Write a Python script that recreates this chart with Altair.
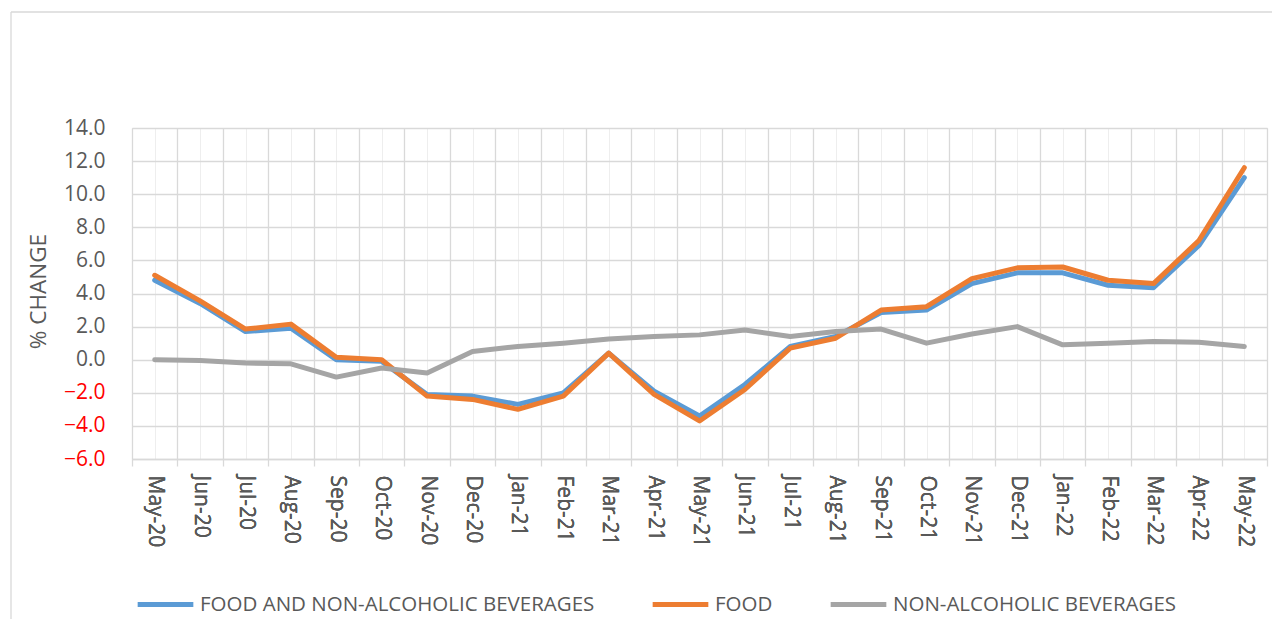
import altair as alt
import pandas as pd

months = ['May-20', 'Jun-20', 'Jul-20', 'Aug-20', 'Sep-20', 'Oct-20', 'Nov-20', 'Dec-20',
          'Jan-21', 'Feb-21', 'Mar-21', 'Apr-21', 'May-21', 'Jun-21', 'Jul-21', 'Aug-21',
          'Sep-21', 'Oct-21', 'Nov-21', 'Dec-21', 'Jan-22', 'Feb-22', 'Mar-22', 'Apr-22', 'May-22']

food_nab = [4.8, 3.4, 1.7, 1.9, 0.0, -0.1, -2.1, -2.2, -2.7, -2.0, 0.4, -1.9, -3.4, -1.5,
            0.8, 1.4, 2.85, 3.0, 4.6, 5.25, 5.25, 4.5, 4.35, 6.9, 11.0]
food = [5.1, 3.55, 1.85, 2.15, 0.15, 0.0, -2.2, -2.4, -3.0, -2.2, 0.4, -2.1, -3.7, -1.8,
        0.7, 1.3, 3.0, 3.2, 4.9, 5.55, 5.6, 4.8, 4.6, 7.2, 11.6]
nab = [0.0, -0.05, -0.2, -0.25, -1.05, -0.5, -0.8, 0.5, 0.8, 1.0, 1.25, 1.4, 1.5, 1.8,
       1.4, 1.7, 1.85, 1.0, 1.55, 2.0, 0.9, 1.0, 1.1, 1.05, 0.8]

series_names = ['FOOD AND NON-ALCOHOLIC BEVERAGES', 'FOOD', 'NON-ALCOHOLIC BEVERAGES']
series_colors = ['#5B9BD5', '#ED7D31', '#A5A5A5']
y_ticks = [-6, -4, -2, 0, 2, 4, 6, 8, 10, 12, 14]

rows = []
for name, vals in zip(series_names, [food_nab, food, nab]):
    for i, (m, v) in enumerate(zip(months, vals)):
        rows.append({'idx': i, 'month': m, 'series': name, 'value': v})
df = pd.DataFrame(rows)

FONT = 'Open Sans'
TXT = '#595959'
GRID = '#d9d9d9'
n = len(months)
label_expr = "[" + ",".join("'%s'" % m for m in months) + "][datum.value]"

xscale = alt.Scale(domain=[-0.5, n - 0.5], nice=False, zero=False)
yscale = alt.Scale(domain=[-6, 14], nice=False)

yaxis = alt.Axis(values=y_ticks, format='.1f', title='% CHANGE',
                 grid=True, gridColor=GRID, gridWidth=1.3, ticks=False,
                 domain=False, labelPadding=27, labelFont=FONT, labelFontSize=21,
                 labelColor=alt.ExprRef("datum.value < 0 ? '#FF0000' : '#595959'"),
                 titleFont=FONT, titleFontSize=22.5, titleColor=TXT,
                 titleFontWeight='normal', titleAngle=270, titleX=-94,
                 titleY=163, titleAlign='center', titleBaseline='middle')

color = alt.Color('series:N',
                  scale=alt.Scale(domain=series_names, range=series_colors),
                  sort=series_names,
                  legend=alt.Legend(title=None, orient='none', direction='horizontal',
                                    legendX=3, legendY=446,
                                    symbolType='stroke', symbolSize=3100,
                                    symbolStrokeWidth=5, labelFont=FONT, labelFontSize=20.5,
                                    labelColor=TXT, labelOffset=4, columnPadding=47,
                                    labelLimit=700))

base = alt.Chart(df).encode(
    x=alt.X('idx:Q', scale=xscale,
            axis=alt.Axis(values=list(range(n)), labelExpr=label_expr, title=None,
                          orient='bottom',
                          grid=True, gridColor='#eeeeee', gridWidth=1, ticks=False,
                          domain=False, labelAngle=90, labelAlign='left',
                          labelBaseline='middle', labelPadding=16, labelFont=FONT,
                          labelFontSize=21, labelColor=TXT)),
    y=alt.Y('value:Q', scale=yscale, axis=yaxis),
    color=color,
)

lines = [base.transform_filter(alt.datum.series == s).mark_line(
    strokeWidth=5, strokeCap='round', strokeJoin='round') for s in series_names]

boundaries = [i - 0.5 for i in range(n + 1)]
grid_layer = alt.Chart(df).mark_line(strokeOpacity=0).encode(
    x=alt.X('idx:Q', scale=xscale,
            axis=alt.Axis(values=boundaries, labels=False, title=None, grid=True,
                          orient='bottom',
                          gridColor=GRID, gridWidth=1.3, ticks=True, tickSize=7,
                          tickColor=GRID, tickWidth=1.3, domain=True,
                          domainColor=GRID, domainWidth=1.3)),
    y=alt.Y('value:Q', scale=yscale, axis=yaxis),
)

frame_df = pd.DataFrame({'k': [0]})
left_border = alt.Chart(frame_df).mark_rule(color=GRID, strokeWidth=1.3).encode(
    x=alt.value(-121), y=alt.value(-116), y2=alt.value(495))
top_border = alt.Chart(frame_df).mark_rule(color=GRID, strokeWidth=1.3).encode(
    x=alt.value(-121), x2=alt.value(1145), y=alt.value(-116))

chart = alt.layer(grid_layer, *lines, left_border, top_border).resolve_axis(
    x='independent').properties(
    width=1135, height=331,
    autosize=alt.AutoSizeParams(type='none'),
    padding={'left': 124, 'top': 120, 'right': 5, 'bottom': 160},
).configure_view(stroke=GRID).configure(background='white')

chart.save('out.html', embed_options={'renderer': 'svg', 'actions': False})
